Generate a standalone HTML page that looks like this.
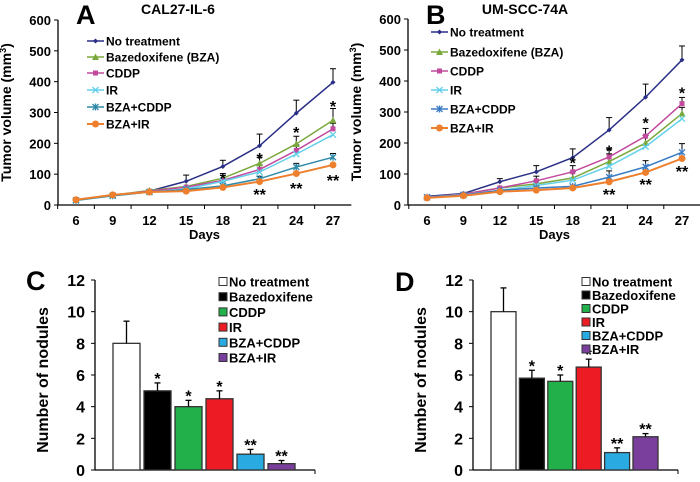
<!DOCTYPE html>
<html><head><meta charset="utf-8"><style>
body{margin:0;background:#fff}
svg{display:block;font-family:"Liberation Sans",Arial,sans-serif;font-weight:bold}
</style></head><body>
<svg id="fig" width="700" height="482" viewBox="0 0 700 482"></svg>
<script>
const days=[6,9,12,15,18,21,24,27];
const yTicksLine=[0,100,200,300,400,500,600];
const seriesNames=["No treatment","Bazedoxifene (BZA)","CDDP","IR","BZA+CDDP","BZA+IR"];
const A_no=[17,32,45,77,125,192,298,398];
const A_bza=[17,32,47,60,87,135,198,275];
const A_cddp=[17,32,45,58,80,115,177,247];
const A_ir=[15,30,42,52,77,107,165,228];
const A_bzacddp=[15,30,42,50,62,85,123,155];
const A_bzair=[17,33,42,45,57,76,102,130];
const A_noErr=[0,0,5,20,20,38,42,44];
const A_bzaErr=[0,0,0,0,15,20,25,38];
const A_cddpErr=[0,0,0,0,0,15,18,18];
const A_bzacddpErr=[0,0,0,0,0,8,12,12];
const B_no=[28,37,75,107,153,242,348,468];
const B_bza=[25,35,55,68,87,140,200,295];
const B_cddp=[25,35,55,78,107,155,222,327];
const B_ir=[25,33,47,63,80,125,188,278];
const B_bzacddp=[25,32,47,55,60,90,123,170];
const B_bzair=[23,30,43,48,55,75,105,150];
const B_noErr=[0,0,10,20,28,40,42,45];
const B_bzaErr=[0,0,0,10,20,25,25,20];
const B_cddpErr=[0,0,0,15,20,25,25,20];
const B_bzacddpErr=[0,0,0,0,0,20,20,28];
const barCats=["No treatment","Bazedoxifene","CDDP","IR","BZA+CDDP","BZA+IR"];
const yTicksBar=[0,2,4,6,8,10,12];
const C_vals=[8,5,4,4.5,1,0.4];
const C_err=[1.4,0.5,0.4,0.5,0.3,0.2];
const C_stars=["","*","*","*","**","**"];
const D_vals=[10,5.8,5.6,6.5,1.1,2.1];
const D_err=[1.5,0.5,0.4,0.5,0.3,0.2];
const D_stars=["","*","*","*","**","**"];

const NS="http://www.w3.org/2000/svg";
const svg=document.getElementById('fig');
function mk(tag,attrs,parent,text){const e=document.createElementNS(NS,tag);for(const k in attrs)e.setAttribute(k,attrs[k]);if(text!==undefined)e.textContent=text;(parent||svg).appendChild(e);return e;}

function lineChart(o){
  const g=mk('g',{});
  
  
  const x=d=>o.x0+(d-6)/21*(o.x1-o.x0);
  const y=v=>o.y0-v/600*(o.y0-o.yTop);
  const step=(o.x1-o.x0)/7;
  let ax=mk('line',{x1:o.ax,y1:o.yTop,x2:o.ax,y2:o.y0,stroke:'#000','stroke-width':1.3},g);
  
  let bx=mk('line',{x1:o.ax,y1:o.y0,x2:o.x1+step/2,y2:o.y0,stroke:'#000','stroke-width':1.3},g);
  
  yTicksLine.forEach(t=>{mk('line',{x1:o.ax-4,x2:o.ax,y1:y(t),y2:y(t),stroke:'#000'},g);
    const tl=mk('text',{x:o.ax-7,y:y(t)+5,'text-anchor':'end','font-size':13},g,t);
    });
  for(let i=0;i<=7;i++){const tx=o.x0-step/2+i*step;mk('line',{x1:tx,x2:tx,y1:o.y0,y2:o.y0+4,stroke:'#000'},g);}
  days.forEach(d=>{const tl=mk('text',{x:x(d),y:o.y0+20,'text-anchor':'middle','font-size':13},g,d);
    });
  let xt=mk('text',{x:(o.x0+o.x1)/2,y:o.y0+34,'text-anchor':'middle','font-size':13},g,'Days');
  
  let yt=mk('text',{transform:`translate(${o.ax-47},${(o.y0+o.yTop)/2}) rotate(-90)`,'text-anchor':'middle','font-size':14},g);
  
  yt.innerHTML='Tumor volume (mm<tspan dy="-5" font-size="9">3</tspan><tspan dy="5">)</tspan>';
  let tt=mk('text',{x:o.titleX,y:14,'text-anchor':'middle','font-size':14},g,o.title);
  
  let pl=mk('text',{x:o.letterX,y:24,'font-size':27,'font-weight':'bold'},g,o.letter);
  
  o.errs.forEach(([vals,err])=>vals.forEach((v,i)=>{if(!err[i])return;const xx=x(days[i]);
    mk('line',{x1:xx,x2:xx,y1:y(v),y2:y(v+err[i]),stroke:'#000','stroke-width':1},g);
    mk('line',{x1:xx-3,x2:xx+3,y1:y(v+err[i]),y2:y(v+err[i]),stroke:'#000','stroke-width':1},g);}));
  o.series.forEach((s,si)=>{
    const sg=mk('g',{},g);
    
    mk('polyline',{points:s.vals.map((v,i)=>x(days[i])+','+y(v)).join(' '),fill:'none',stroke:s.color,'stroke-width':s.w||1.5},sg);
    s.vals.forEach((v,i)=>marker(sg,s.marker,x(days[i]),y(v),s.color));
    const ly=o.legY[si];
    const lg=mk('g',{},g);
    
    mk('line',{x1:o.legX,x2:o.legX+17,y1:ly,y2:ly,stroke:s.color,'stroke-width':s.w||1.5},lg);
    marker(lg,s.marker,o.legX+8.5,ly,s.color);
    mk('text',{x:o.legX+19,y:ly+4.5,'font-size':12},lg,seriesNames[si]);
  });
  o.stars.forEach(([d,v,t])=>{const st=mk('text',{x:x(d),y:y(v),'text-anchor':'middle','font-size':16},g,t);
    });
}
function marker(p,m,cx,cy,c){
  if(m==='dia')mk('path',{d:`M${cx-2.5},${cy}L${cx},${cy-2.5}L${cx+2.5},${cy}L${cx},${cy+2.5}Z`,fill:c},p);
  else if(m==='tri')mk('path',{d:`M${cx-3.5},${cy+3}L${cx+3.5},${cy+3}L${cx},${cy-3.5}Z`,fill:c},p);
  else if(m==='sq')mk('rect',{x:cx-2.5,y:cy-2.5,width:5,height:5,fill:c},p);
  else if(m==='x')mk('path',{d:`M${cx-3},${cy-3}L${cx+3},${cy+3}M${cx-3},${cy+3}L${cx+3},${cy-3}`,stroke:c,'stroke-width':1.3},p);
  else if(m==='star')mk('path',{d:`M${cx-3},${cy-3}L${cx+3},${cy+3}M${cx-3},${cy+3}L${cx+3},${cy-3}M${cx},${cy-3.5}L${cx},${cy+3.5}`,stroke:c,'stroke-width':1.3},p);
  else if(m==='dot')mk('circle',{cx,cy,r:3.5,fill:c},p);
}
lineChart({name:'chart-a',letter:'A',letterX:76,title:'CAL27-IL-6',titleX:178,ax:58,x0:76,x1:333,y0:205,yTop:20,
  legX:87,legY:[41,57,73,90,107,124],
  series:[{key:'no-treatment',vals:A_no,color:'#2a2f86',marker:'dia'},{key:'bza',vals:A_bza,color:'#7aa83c',marker:'tri'},
    {key:'cddp',vals:A_cddp,color:'#c24a9e',marker:'sq'},{key:'ir',vals:A_ir,color:'#63d0ea',marker:'x'},
    {key:'bza-cddp',vals:A_bzacddp,color:'#2e8aa8',marker:'star'},{key:'bza-ir',vals:A_bzair,color:'#ee7f2d',marker:'dot',w:2}],
  errs:[[A_no,A_noErr],[A_bza,A_bzaErr],[A_cddp,A_cddpErr],[A_bzacddp,A_bzacddpErr]],
  stars:[[18,68,'*'],[21,133,'*'],[24,217,'*'],[27,302,'*'],[21,16,'**'],[24,36,'**'],[27,62,'**']]});
lineChart({name:'chart-b',letter:'B',letterX:426,title:'UM-SCC-74A',titleX:525,ax:408,x0:427,x1:682,y0:205,yTop:19,
  legX:431,legY:[32,52,71,90,109,128],
  series:[{key:'no-treatment',vals:B_no,color:'#2a2f86',marker:'dia'},{key:'bza',vals:B_bza,color:'#7aa83c',marker:'tri'},
    {key:'cddp',vals:B_cddp,color:'#c24a9e',marker:'sq'},{key:'ir',vals:B_ir,color:'#63d0ea',marker:'x'},
    {key:'bza-cddp',vals:B_bzacddp,color:'#3a7cc4',marker:'star'},{key:'bza-ir',vals:B_bzair,color:'#ee7f2d',marker:'dot',w:2}],
  errs:[[B_no,B_noErr],[B_bza,B_bzaErr],[B_cddp,B_cddpErr],[B_bzacddp,B_bzacddpErr]],
  stars:[[18,117,'*'],[21,156,'*'],[24,246,'*'],[27,343,'*'],[21,16,'**'],[24,49,'**'],[27,91,'**']]});

const barColors=['#ffffff','#000000','#22b04b','#ed1c24','#29abe2','#7a3f9d'];
function barChart(o){
  const g=mk('g',{});
  
  const y=v=>o.y0-v/12*(o.y0-o.yTop);
  let ya=mk('line',{x1:o.ax,x2:o.ax,y1:o.yTop,y2:o.y0,stroke:'#000','stroke-width':1.3},g);
  
  let xa=mk('line',{x1:o.ax,x2:o.axEnd,y1:o.y0,y2:o.y0,stroke:'#000','stroke-width':1.3},g);
  
  mk('line',{x1:o.axEnd,x2:o.axEnd,y1:o.y0,y2:o.y0+4,stroke:'#000'},g);
  yTicksBar.forEach(t=>{mk('line',{x1:o.ax-4,x2:o.ax,y1:y(t),y2:y(t),stroke:'#000'},g);
    const tl=mk('text',{x:o.ax-10,y:y(t)+6,'text-anchor':'end','font-size':16},g,t);
    });
  let yt=mk('text',{transform:`translate(${o.ax-47},${(o.y0+o.yTop)/2+5}) rotate(-90)`,'text-anchor':'middle','font-size':16},g,'Number of nodules');
  
  let pl=mk('text',{x:o.letterX,y:o.letterY,'font-size':27},g,o.letter);
  
  o.vals.forEach((v,i)=>{
    const bx=o.b0+i*o.pitch;
    const r=mk('rect',{x:bx,y:y(v),width:o.bw,height:o.y0-y(v),fill:barColors[i],stroke:'#333','stroke-width':1.3},g);
    
    
    const cx=bx+o.bw/2,te=y(v+o.err[i]);
    mk('line',{x1:cx,x2:cx,y1:y(v),y2:te,stroke:'#000','stroke-width':1.3},g);
    mk('line',{x1:cx-3,x2:cx+3,y1:te,y2:te,stroke:'#000','stroke-width':1.3},g);
    if(o.stars[i]){const st=mk('text',{x:cx,y:te+1,'text-anchor':'middle','font-size':16},g,o.stars[i]);
      }
    const lg=mk('g',{},g);
    
    const ly=o.legY0+i*o.legStep;
    mk('rect',{x:o.legX,y:ly-4.5,width:8,height:8,fill:barColors[i],stroke:'#333','stroke-width':1},lg);
    mk('text',{x:o.legX+10,y:ly+4.5,'font-size':13},lg,barCats[i]);
  });
}
barChart({name:'chart-c',letter:'C',letterX:26,letterY:290,ax:95,axEnd:315,y0:470,yTop:280,b0:113,pitch:31,bw:27,
  vals:C_vals,err:C_err,stars:C_stars,legX:219,legY0:282,legStep:15.2});
barChart({name:'chart-d',letter:'D',letterX:395,letterY:291,ax:473,axEnd:678,y0:470,yTop:280,b0:491,pitch:28.4,bw:25,
  vals:D_vals,err:D_err,stars:D_stars,legX:582,legY0:282,legStep:13.5});
</script>
</body></html>
